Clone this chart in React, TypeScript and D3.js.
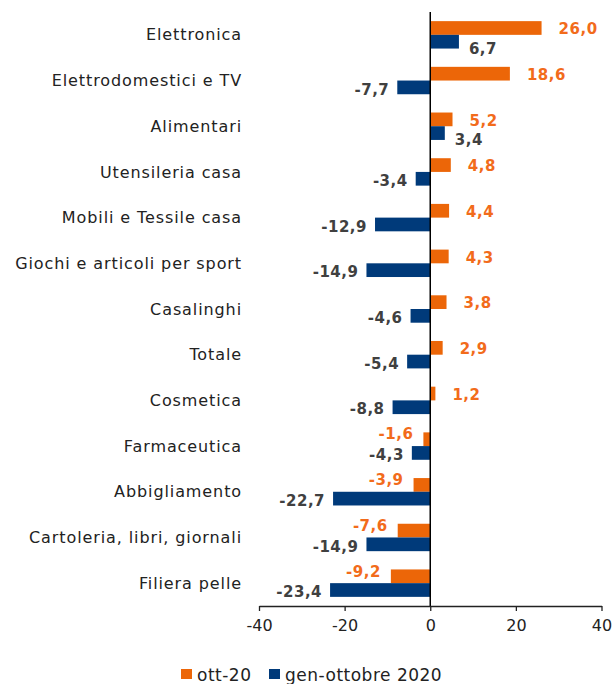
import React, { useEffect, useRef } from 'react';
import * as d3 from 'd3';

const categories = [
  'Elettronica',
  'Elettrodomestici e TV',
  'Alimentari',
  'Utensileria casa',
  'Mobili e Tessile casa',
  'Giochi e articoli per sport',
  'Casalinghi',
  'Totale',
  'Cosmetica',
  'Farmaceutica',
  'Abbigliamento',
  'Cartoleria, libri, giornali',
  'Filiera pelle',
];

const ott20 = [26.0, 18.6, 5.2, 4.8, 4.4, 4.3, 3.8, 2.9, 1.2, -1.6, -3.9, -7.6, -9.2];
const genOtt2020 = [6.7, -7.7, 3.4, -3.4, -12.9, -14.9, -4.6, -5.4, -8.8, -4.3, -22.7, -14.9, -23.4];

const seriesNames = ['ott-20', 'gen-ottobre 2020'];
const xTicks = [-40, -20, 0, 20, 40];

const ORANGE = '#EC6608';
const ORANGE_TXT = '#F26B1B';
const BLUE = '#003A7A';
const GREY_TXT = '#404040';
const FONT = "'DejaVu Sans', sans-serif";

const fmt = (v: number) => d3.format('.1f')(v).replace('.', ',').replace('−', '-');

const App = () => {
  const ref = useRef<SVGSVGElement>(null);

  useEffect(() => {
    const svg = d3.select(ref.current);
    svg.selectAll('*').remove();

    const x = d3.scaleLinear().domain([-40, 40]).range([259, 601.5]);
    const y = d3.scaleBand<string>()
      .domain(categories)
      .range([12, 606])
      .paddingInner(0.4)
      .paddingOuter(0.2);
    const sub = d3.scaleBand<string>()
      .domain(seriesNames)
      .range([0, y.bandwidth()]);

    const rows = categories.map((c, i) => ({ c, a: ott20[i], b: genOtt2020[i] }));

    // category labels
    svg.append('g')
      .selectAll('text')
      .data(rows)
      .enter().append('text')
      .attr('x', 242)
      .attr('y', d => y(d.c)! + y.bandwidth() / 2)
      .attr('dy', '0.35em')
      .attr('text-anchor', 'end')
      .attr('font-family', FONT)
      .attr('font-size', 16)
      .attr('letter-spacing', 0.9)
      .attr('fill', '#222')
      .text(d => d.c);

    const bars = svg.append('g');
    // orange bars
    bars.selectAll('.bar-a')
      .data(rows)
      .enter().append('rect')
      .attr('x', d => x(Math.min(0, d.a)))
      .attr('y', d => y(d.c)! + sub(seriesNames[0])!)
      .attr('width', d => Math.abs(x(d.a) - x(0)))
      .attr('height', sub.bandwidth())
      .attr('fill', ORANGE);
    // blue bars
    bars.selectAll('.bar-b')
      .data(rows)
      .enter().append('rect')
      .attr('x', d => x(Math.min(0, d.b)))
      .attr('y', d => y(d.c)! + sub(seriesNames[1])!)
      .attr('width', d => Math.abs(x(d.b) - x(0)))
      .attr('height', sub.bandwidth())
      .attr('fill', BLUE);

    // value labels
    const labels = svg.append('g')
      .attr('font-family', FONT)
      .attr('font-size', 15)
      .attr('font-weight', 'bold')
      .attr('letter-spacing', 0.5);

    labels.selectAll('.lab-a')
      .data(rows)
      .enter().append('text')
      .attr('x', d => d.a >= 0 ? x(d.a) + 17 : x(d.a) - 10)
      .attr('y', d => y(d.c)! + sub(seriesNames[0])! + sub.bandwidth() / 2 + (d.a >= 0 ? 1 : -5))
      .attr('dy', '0.35em')
      .attr('text-anchor', d => d.a >= 0 ? 'start' : 'end')
      .attr('fill', ORANGE_TXT)
      .text(d => fmt(d.a));

    labels.selectAll('.lab-b')
      .data(rows)
      .enter().append('text')
      .attr('x', d => d.b >= 0 ? x(d.b) + 10 : x(d.b) - 8)
      .attr('y', d => y(d.c)! + sub(seriesNames[1])! + sub.bandwidth() / 2 + (d.b >= 0 ? 7 : 2))
      .attr('dy', '0.35em')
      .attr('text-anchor', d => d.b >= 0 ? 'start' : 'end')
      .attr('fill', GREY_TXT)
      .text(d => fmt(d.b));

    // zero line
    svg.append('line')
      .attr('x1', x(0)).attr('x2', x(0))
      .attr('y1', 12).attr('y2', 606)
      .attr('stroke', '#000')
      .attr('stroke-width', 1.5);

    // x axis
    const axis = svg.append('g')
      .attr('transform', 'translate(0,606)')
      .call(d3.axisBottom(x).tickValues(xTicks).tickSize(5).tickSizeOuter(0).tickFormat(d => String(d)));
    axis.select('.domain').attr('stroke', '#222').attr('stroke-width', 1.3);
    axis.selectAll('.tick line').attr('stroke', '#222').attr('stroke-width', 1.3);
    axis.selectAll('.tick text')
      .attr('font-family', FONT)
      .attr('font-size', 16)
      .attr('fill', '#222')
      .attr('y', 14);

    // legend
    const legend = svg.append('g')
      .attr('font-family', FONT)
      .attr('font-size', 17)
      .attr('letter-spacing', 0.5);
    const legX = [181, 269];
    const legColors = [ORANGE, BLUE];
    seriesNames.forEach((s, i) => {
      legend.append('rect')
        .attr('x', legX[i]).attr('y', 669)
        .attr('width', 11).attr('height', 10)
        .attr('fill', legColors[i]);
      legend.append('text')
        .attr('x', legX[i] + 16).attr('y', 681)
        .attr('fill', '#222')
        .text(s);
    });
  }, []);

  return (
    <svg
      ref={ref}
      width={614}
      height={684}
      style={{ position: 'absolute', left: 0, top: 0, background: '#fff' }}
    />
  );
};

export default App;
